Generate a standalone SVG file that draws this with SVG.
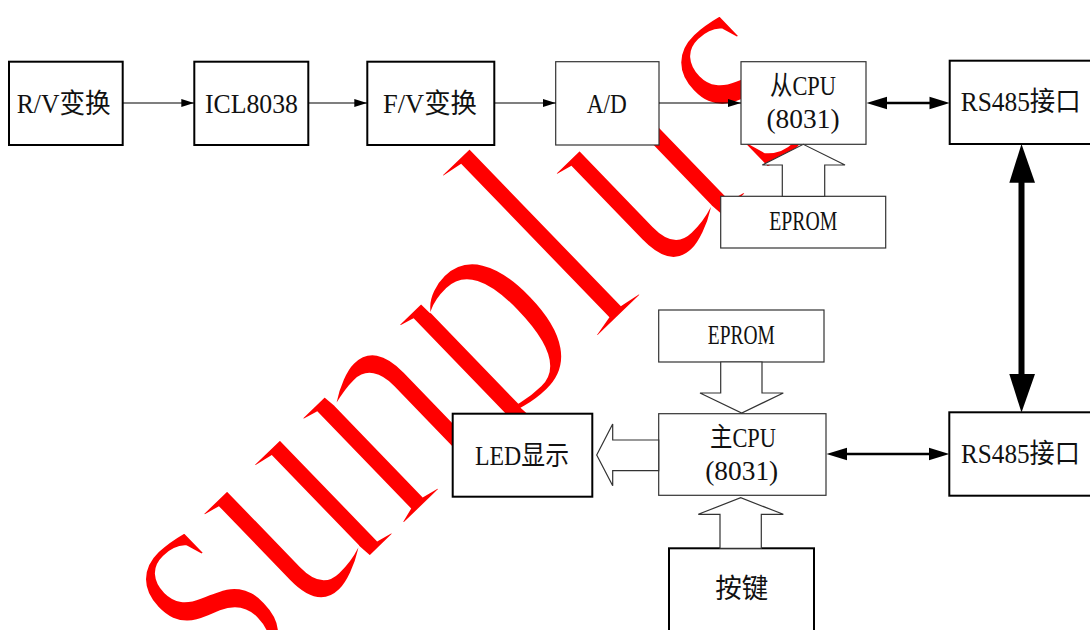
<svg xmlns="http://www.w3.org/2000/svg" width="1090" height="630" viewBox="0 0 1090 630">
<style>
.thick{fill:#fff;stroke:#000;stroke-width:2}
.thin{fill:#fff;stroke:#333;stroke-width:1.2}
.lbl{font-family:"Liberation Serif","Noto Sans CJK SC",serif;font-size:27px;fill:#111;text-anchor:middle}
.ln{stroke:#000;stroke-width:1.2;fill:none}
.bold{stroke:#000;stroke-width:2.6;fill:none}
.head{fill:#000;stroke:none}
.open{fill:#fff;stroke:#333;stroke-width:1.2;stroke-linejoin:miter}
.wm{font-family:"Liberation Serif",serif;font-size:270px;fill:#ff0000;stroke:#fff;stroke-width:6}
</style>
<defs>
<marker id="ah" markerUnits="userSpaceOnUse" markerWidth="13" markerHeight="8" refX="13" refY="4" orient="auto">
<path d="M0,0 L13,4 L0,8 z" fill="#000"/>
</marker>
</defs>
<rect width="1090" height="630" fill="#fff"/>
<g id="watermark">
<text class="wm" transform="translate(227,698) rotate(-44) scale(1,1.226)">sunpl<tspan dx="10">u</tspan><tspan dx="14">s</tspan></text>
</g>
<g id="n-rv"><rect class="thick" x="9" y="61.7" width="113.7" height="83.3"/><text class="lbl" x="63.7" y="113" textLength="94" lengthAdjust="spacingAndGlyphs">R/V变换</text></g>
<g id="n-icl"><rect class="thick" x="194.3" y="61.7" width="114" height="83.3"/><text class="lbl" x="251.5" y="112.5" textLength="93" lengthAdjust="spacingAndGlyphs">ICL8038</text></g>
<g id="n-fv"><rect class="thick" x="367.3" y="61.7" width="127" height="83.3"/><text class="lbl" x="430" y="113" textLength="94" lengthAdjust="spacingAndGlyphs">F/V变换</text></g>
<g id="n-ad"><rect class="thin" x="555.7" y="61.7" width="103.3" height="83.3"/><text class="lbl" x="606.7" y="112.5" textLength="40" lengthAdjust="spacingAndGlyphs">A/D</text></g>
<g id="n-scpu"><rect class="thin" x="741" y="61.7" width="125" height="82.6"/><text class="lbl" x="803" y="95" textLength="66" lengthAdjust="spacingAndGlyphs">从CPU</text><text class="lbl" x="803" y="127.5" textLength="73" lengthAdjust="spacingAndGlyphs">(8031)</text></g>
<g id="n-rs1"><rect class="thick" x="949.7" y="60.7" width="160" height="83.3"/><text class="lbl" x="1020.7" y="111" textLength="120" lengthAdjust="spacingAndGlyphs">RS485接口</text></g>
<g id="n-eprom1"><rect class="thin" x="720.7" y="196.3" width="165" height="51.7"/><text class="lbl" x="803.3" y="230" textLength="68" lengthAdjust="spacingAndGlyphs">EPROM</text></g>
<g id="n-eprom2"><rect class="thin" x="658.7" y="310" width="165.3" height="52"/><text class="lbl" x="741.3" y="344" textLength="67" lengthAdjust="spacingAndGlyphs">EPROM</text></g>
<g id="n-mcpu"><rect class="thin" x="658.7" y="413.7" width="167.3" height="81.6"/><text class="lbl" x="743" y="447" textLength="66" lengthAdjust="spacingAndGlyphs">主CPU</text><text class="lbl" x="741.7" y="480" textLength="73" lengthAdjust="spacingAndGlyphs">(8031)</text></g>
<g id="n-led"><rect class="thick" x="452.7" y="413.7" width="139.6" height="83"/><text class="lbl" x="522" y="464.5" textLength="94" lengthAdjust="spacingAndGlyphs">LED显示</text></g>
<g id="n-key"><rect class="thick" x="669" y="548.3" width="145" height="100"/><text class="lbl" x="741.7" y="598" textLength="53" lengthAdjust="spacingAndGlyphs">按键</text></g>
<g id="n-rs2"><rect class="thick" x="949.3" y="412.3" width="160" height="83.4"/><text class="lbl" x="1020.5" y="463" textLength="119" lengthAdjust="spacingAndGlyphs">RS485接口</text></g>
<g id="connectors">
<path class="ln" d="M122.7,103 L194.3,103" marker-end="url(#ah)"/>
<path class="ln" d="M308.3,103 L367.3,103" marker-end="url(#ah)"/>
<path class="ln" d="M494.3,103 L555.7,103" marker-end="url(#ah)"/>
<path class="ln" d="M659,103 L741,103" marker-end="url(#ah)"/>
<path class="bold" d="M884,103 L932,103"/>
<polygon class="head" points="866.5,103 887,96.7 887,109.3"/>
<polygon class="head" points="949.7,103 929.5,96.7 929.5,109.3"/>
<path class="bold" d="M845,454 L931,454"/>
<polygon class="head" points="826.5,454 847,447.7 847,460.3"/>
<polygon class="head" points="949.3,454 929,447.7 929,460.3"/>
<rect class="head" x="1018.5" y="180" width="6" height="197"/>
<polygon class="head" points="1021.5,144 1009.3,182.7 1035,182.7"/>
<polygon class="head" points="1021.5,412.5 1009.3,374 1035,374"/>
<polygon class="open" points="782.3,196.3 782.3,165 762.3,165 803.3,144.3 845,165 824.7,165 824.7,196.3"/>
<polygon class="open" points="720.7,362 720.7,393 700,393 741.7,413 783.3,393 762,393 762,362"/>
<polygon class="open" points="720,548.3 720,514.3 698.3,514.3 740.7,497.7 783.3,514.3 761.3,514.3 761.3,548.3"/>
<polygon class="open" points="658.7,440 612.7,440 612.7,424 596.7,455 612.7,485.7 612.7,470.7 658.7,470.7"/>
</g>
</svg>
